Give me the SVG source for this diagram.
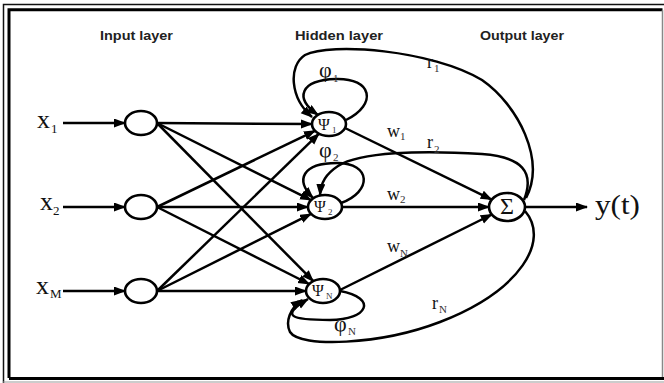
<svg xmlns="http://www.w3.org/2000/svg" width="664" height="383" viewBox="0 0 664 383">
<defs>
<marker id="ah" markerUnits="userSpaceOnUse" markerWidth="13" markerHeight="10" refX="11" refY="4.5" orient="auto">
<path d="M0,0 L12,4.5 L0,9 z" fill="#000"/>
</marker>
<style>
.ln{stroke:#000;stroke-width:2.5;fill:none;marker-end:url(#ah)}
.nd{fill:#fff;stroke:#000;stroke-width:2.6}
.ttl{font-family:"Liberation Sans",Arial,sans-serif;font-weight:bold;font-size:12px;fill:#222}
.mt{font-family:"Liberation Serif","Times New Roman",serif;fill:#111}
.sb{font-family:"Liberation Serif","Times New Roman",serif;fill:#333}
</style>
</defs>
<rect width="664" height="383" fill="#fff"/>
<g id="frame" fill="none">
<path d="M3.5,383 V4.5 H664" stroke="#111" stroke-width="1.5"/>
<path d="M9,378 V9.8 H662.5" stroke="#000" stroke-width="3"/>
<path d="M662.5,10 V378" stroke="#888" stroke-width="1.5"/>
<path d="M9,378.5 H664" stroke="#000" stroke-width="3"/>
<path d="M3,382 H664" stroke="#999" stroke-width="1"/>
</g>
<g id="titles">
<text class="ttl" x="100" y="40" textLength="73" lengthAdjust="spacingAndGlyphs">Input layer</text>
<text class="ttl" x="295" y="40" textLength="88" lengthAdjust="spacingAndGlyphs">Hidden layer</text>
<text class="ttl" x="480" y="40" textLength="84" lengthAdjust="spacingAndGlyphs">Output layer</text>
</g>
<g id="connectors">
<line class="ln" x1="63" y1="123" x2="125" y2="123"/>
<line class="ln" x1="63" y1="207" x2="125" y2="207"/>
<line class="ln" x1="63" y1="291" x2="125" y2="291"/>
<line class="ln" x1="157" y1="123" x2="312" y2="124"/>
<line class="ln" x1="157" y1="123" x2="311.1" y2="200.1"/>
<line class="ln" x1="157" y1="123" x2="313.3" y2="281.2"/>
<line class="ln" x1="157" y1="207" x2="315" y2="130.8"/>
<line class="ln" x1="157" y1="207" x2="308" y2="207"/>
<line class="ln" x1="157" y1="207" x2="309.2" y2="284"/>
<line class="ln" x1="157" y1="291" x2="319" y2="133.7"/>
<line class="ln" x1="157" y1="291" x2="311.1" y2="213.9"/>
<line class="ln" x1="157" y1="291" x2="306" y2="291"/>
<line class="ln" x1="345" y1="128" x2="491.7" y2="199.6"/>
<line class="ln" x1="342" y1="207" x2="489" y2="207"/>
<line class="ln" x1="340" y1="290" x2="491.8" y2="214.5"/>
<line class="ln" x1="525" y1="207" x2="587" y2="207"/>
<path class="ln" d="M346,120 C378,104 372,78 336,79 C300,80 294,98 318,115"/>
<path class="ln" d="M526,198 C546,160 518,105 482,80 C432,50 330,42 305,55 C288,66 290,98 312,117"/>
<path class="ln" d="M341,203 C372,192 372,163 337,163 C302,163 295,180 313,198"/>
<path class="ln" d="M524,200 C535,172 522,157 482,154 C420,150 360,152 338,166 C326,174 321,182 320,195"/>
<path class="ln" d="M340,291 C378,298 368,320 330,320 C290,320 280,316 308,299"/>
<path class="ln" d="M525,211 C550,240 522,290 440,322 C380,345 300,348 290,332 C285,322 290,308 302,300"/>
</g>
<g id="input1"><ellipse class="nd" cx="141" cy="123" rx="16" ry="12"/></g>
<g id="input2"><ellipse class="nd" cx="141" cy="207" rx="16" ry="12"/></g>
<g id="inputM"><ellipse class="nd" cx="141" cy="291" rx="16" ry="12"/></g>
<g id="hidden1"><ellipse class="nd" cx="329" cy="124" rx="17" ry="12"/>
<text class="mt" x="318" y="130" font-size="16">Ψ</text><text class="sb" x="332" y="133" font-size="9">1</text></g>
<g id="hidden2"><ellipse class="nd" cx="325" cy="207" rx="17" ry="12"/>
<text class="mt" x="314" y="212" font-size="16">Ψ</text><text class="sb" x="328" y="215" font-size="9">2</text></g>
<g id="hiddenN"><ellipse class="nd" cx="323" cy="291" rx="17" ry="12"/>
<text class="mt" x="312" y="296" font-size="16">Ψ</text><text class="sb" x="326" y="299" font-size="9">N</text></g>
<g id="output"><ellipse class="nd" cx="507" cy="207" rx="18" ry="14"/>
<text class="mt" x="507" y="214" font-size="24" text-anchor="middle" fill="#333">Σ</text></g>
<g id="labels">
<text class="mt" x="37" y="128" font-size="26">x</text><text class="mt" x="51" y="133" font-size="13">1</text>
<text class="mt" x="40" y="210" font-size="26">x</text><text class="mt" x="53" y="215" font-size="13">2</text>
<text class="mt" x="36" y="294" font-size="26">x</text><text class="mt" x="50" y="298" font-size="13">M</text>
<text class="mt" x="595" y="214" font-size="28" textLength="45" lengthAdjust="spacingAndGlyphs">y(t)</text>
<text class="mt" x="387" y="137" font-size="18">w</text><text class="sb" x="400" y="140" font-size="11">1</text>
<text class="mt" x="387" y="200" font-size="18">w</text><text class="sb" x="400" y="203" font-size="11">2</text>
<text class="mt" x="387" y="252" font-size="18">w</text><text class="sb" x="400" y="257" font-size="11">N</text>
<text class="mt" x="427" y="68" font-size="18">r</text><text class="sb" x="434" y="72" font-size="11">1</text>
<text class="mt" x="427" y="148" font-size="18">r</text><text class="sb" x="434" y="153" font-size="11">2</text>
<text class="mt" x="432" y="309" font-size="18">r</text><text class="sb" x="439" y="313" font-size="11">N</text>
<text class="mt" x="319" y="77" font-size="22">φ</text><text class="sb" x="333" y="82" font-size="11">1</text>
<text class="mt" x="319" y="157" font-size="22">φ</text><text class="sb" x="333" y="161" font-size="11">2</text>
<text class="mt" x="334" y="331" font-size="22">φ</text><text class="sb" x="348" y="335" font-size="11">N</text>
</g>
</svg>
